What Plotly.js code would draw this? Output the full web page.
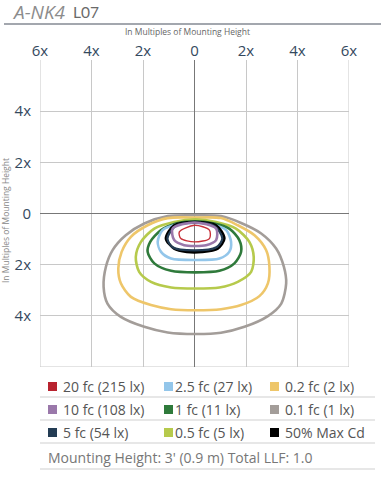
<!DOCTYPE html>
<html><head><meta charset="utf-8">
<script src="https://cdn.plot.ly/plotly-3.0.1.min.js"></script>
<style>body{margin:0;padding:0;background:#fff}#chart{width:390px;height:480px}</style>
</head><body><div id="chart"></div>
<script>
// Contour data (in multiples of mounting height)
const grayX = [0.03,1.03,1.81,2.59,3.17,3.47,3.56,3.37,2.85,1.94,1.03,0.03,-1.04,-1.95,-2.86,-3.38,-3.53,-3.44,-3.18,-2.67,-1.95,-1.04,0.03];
const grayY = [-0.07,-0.10,-0.37,-0.78,-1.37,-2.08,-2.73,-3.52,-4.01,-4.43,-4.66,-4.71,-4.65,-4.43,-4.04,-3.52,-2.87,-2.08,-1.43,-0.85,-0.39,-0.10,-0.07];
const goldX = [0.03,1.03,1.68,2.33,2.78,2.91,2.85,2.52,1.81,1.03,0.03,-0.91,-1.69,-2.47,-2.86,-2.96,-2.83,-2.47,-1.82,-1.04,0.03];
const goldY = [-0.16,-0.18,-0.46,-0.85,-1.43,-2.08,-2.73,-3.23,-3.58,-3.74,-3.78,-3.74,-3.58,-3.26,-2.73,-2.15,-1.50,-0.91,-0.46,-0.18,-0.16];
const ygX = [0.03,0.84,1.61,2.13,2.30,2.20,1.68,0.97,0.03,-0.91,-1.69,-2.15,-2.28,-2.08,-1.56,-0.79,0.03];
const ygY = [-0.23,-0.33,-0.59,-1.11,-1.70,-2.28,-2.67,-2.89,-2.93,-2.89,-2.67,-2.28,-1.70,-1.11,-0.59,-0.33,-0.23];
const greenX = [0.03,0.77,1.35,1.74,1.81,1.55,0.97,0.03,-0.91,-1.56,-1.82,-1.72,-1.30,-0.72,0.03];
const greenY = [-0.30,-0.39,-0.59,-1.04,-1.50,-1.95,-2.24,-2.30,-2.24,-1.95,-1.50,-1.11,-0.65,-0.39,-0.30];
const blueX = [0.03,0.64,1.23,1.42,1.35,0.97,0.03,-0.91,-1.30,-1.43,-1.24,-0.64,0.03];
const blueY = [-0.37,-0.42,-0.65,-1.11,-1.50,-1.76,-1.82,-1.76,-1.50,-1.11,-0.65,-0.42,-0.37];
const maxCdX = [0.00,0.84,1.16,0.90,0.30,-0.30,-0.79,-1.11,-0.79,0.00];
const maxCdY = [-0.33,-0.46,-0.98,-1.37,-1.50,-1.50,-1.37,-0.98,-0.46,-0.33];
const navyX = [0.00,0.78,1.08,0.85,0.00,-0.85,-1.05,-0.74,0.00];
const navyY = [-0.36,-0.49,-0.98,-1.32,-1.44,-1.32,-0.98,-0.49,-0.36];
const purpleX = [0.00,0.84,0.84,0.45,0.00,-0.40,-0.79,-0.85,0.00];
const purpleY = [-0.35,-0.59,-1.04,-1.24,-1.27,-1.24,-1.04,-0.59,-0.35];
const redX = [0.00,0.58,0.58,0.00,-0.53,-0.59,0.00];
const redY = [-0.46,-0.65,-0.98,-1.11,-0.98,-0.72,-0.46];

// Legend
const legendLabels = ["20 fc (215 lx)","2.5 fc (27 lx)","0.2 fc (2 lx)",
                      "10 fc (108 lx)","1 fc (11 lx)","0.1 fc (1 lx)",
                      "5 fc (54 lx)","0.5 fc (5 lx)","50% Max Cd"];
const legendColors = ["#b8232f","#93c6ea","#eec66a",
                      "#9a78aa","#2f7a3b","#a39d99",
                      "#233c54","#b6ca4c","#000000"];
const footnote = "Mounting Height: 3' (0.9 m) Total LLF: 1.0";
const xTickVals = [-6,-4,-2,0,2,4,6];
const xTickText = ["6x","4x","2x","0","2x","4x","6x"];
const yTickVals = [-6,-4,-2,0,2,4];
const yTickText = ["","4x","2x","0","2x","4x"];

const series = [
  {x:grayX,y:grayY,c:"#a39d99",w:2.6},
  {x:goldX,y:goldY,c:"#eec66a",w:2.6},
  {x:ygX,y:ygY,c:"#b6ca4c",w:2.6},
  {x:greenX,y:greenY,c:"#2f7a3b",w:2.6},
  {x:blueX,y:blueY,c:"#93c6ea",w:2.6},
  {x:maxCdX,y:maxCdY,c:"#000000",w:2.6},
  {x:navyX,y:navyY,c:"#233c54",w:2.2},
  {x:purpleX,y:purpleY,c:"#9a78aa",w:2.6},
  {x:redX,y:redY,c:"#c8323a",w:1.4}
];
const traces = series.map(s => ({
  type:"scatter", mode:"lines", x:s.x, y:s.y,
  line:{color:s.c, width:s.w, shape:"spline", smoothing:0.8},
  hoverinfo:"skip", showlegend:false
}));

// pixel -> paper helpers (plot area 40..349 x, 60..367 y)
const L=40, R=349, T=60, B=367;
const px = p => (p-L)/(R-L);
const py = p => (B-p)/(B-T);

const shapes = [];
const annotations = [];
// plot borders (left, right, bottom)
shapes.push({type:"line",xref:"x",yref:"y",x0:-6,x1:-6,y0:-6,y1:6,line:{color:"#c8c8c8",width:1},layer:"below"});
shapes.push({type:"line",xref:"x",yref:"y",x0:6,x1:6,y0:-6,y1:6,line:{color:"#c8c8c8",width:1},layer:"below"});
shapes.push({type:"line",xref:"x",yref:"y",x0:-6,x1:6,y0:-6,y1:-6,line:{color:"#c8c8c8",width:1},layer:"below"});
// title underline
shapes.push({type:"line",xref:"paper",yref:"paper",x0:px(4),x1:px(381),y0:py(24),y1:py(24),line:{color:"#a3a7ae",width:2}});
// legend separators
[397,420,443,469].forEach(yy => shapes.push({type:"line",xref:"paper",yref:"paper",x0:px(40),x1:px(375),y0:py(yy),y1:py(yy),line:{color:"#cfcfcf",width:1}}));
const colSq = [48,164,270], colTx = [61,173,283], rowY = [386.5,409.5,432.5];
legendLabels.forEach((lab,i) => {
  const r = Math.floor(i/3), c = i%3;
  shapes.push({type:"rect",xref:"paper",yref:"paper",x0:px(colSq[c]),x1:px(colSq[c]+9),y0:py(rowY[r]+4.5),y1:py(rowY[r]-4.5),fillcolor:legendColors[i],line:{width:0}});
  annotations.push({xref:"paper",yref:"paper",x:px(colTx[c]),y:py(rowY[r]),xanchor:"left",yanchor:"middle",showarrow:false,text:lab,font:{family:"Open Sans",size:14,color:"#555"}});
});
annotations.push({xref:"paper",yref:"paper",x:px(46),y:py(457),xanchor:"left",yanchor:"middle",showarrow:false,text:footnote,font:{family:"Open Sans",size:14,color:"#777"}});
// header
annotations.push({xref:"paper",yref:"paper",x:px(10),y:py(12),xanchor:"left",yanchor:"middle",showarrow:false,text:"<i>A-NK4</i>",font:{family:"Open Sans",size:19,color:"#8c8c8c"}});
annotations.push({xref:"paper",yref:"paper",x:px(71),y:py(12),xanchor:"left",yanchor:"middle",showarrow:false,text:"L07",font:{family:"Lato",size:15.5,color:"#6a6a6a"}});
// axis titles
annotations.push({xref:"paper",yref:"paper",x:px(187),y:py(32),xanchor:"center",yanchor:"middle",showarrow:false,text:"In Multiples of Mounting Height",font:{family:"Open Sans",size:8.5,color:"#666"}});
annotations.push({xref:"paper",yref:"paper",x:px(5),y:py(221),xanchor:"center",yanchor:"middle",textangle:-90,showarrow:false,text:"In Multiples of Mounting Height",font:{family:"Open Sans",size:8.5,color:"#888"}});

const layout = {
  width:390, height:480,
  margin:{l:L, r:390-R, t:T, b:480-B},
  paper_bgcolor:"#fff", plot_bgcolor:"#fff",
  showlegend:false,
  xaxis:{range:[-6,6], side:"top", tickvals:xTickVals, ticktext:xTickText,
         showgrid:true, gridcolor:"#c8c8c8", gridwidth:1,
         zeroline:true, zerolinecolor:"#777", zerolinewidth:1.5,
         showline:false, ticks:"", tickfont:{family:"Open Sans",size:15,color:"#34495e"}, fixedrange:true},
  yaxis:{range:[-6,6], tickvals:yTickVals, ticktext:yTickText,
         showgrid:true, gridcolor:"#c8c8c8", gridwidth:1,
         zeroline:true, zerolinecolor:"#777", zerolinewidth:1.5,
         showline:false, ticks:"", ticklabelstandoff:8, tickfont:{family:"Open Sans",size:15,color:"#34495e"}, fixedrange:true},
  shapes:shapes, annotations:annotations
};
Plotly.newPlot("chart", traces, layout, {displayModeBar:false, staticPlot:true});
</script></body></html>
